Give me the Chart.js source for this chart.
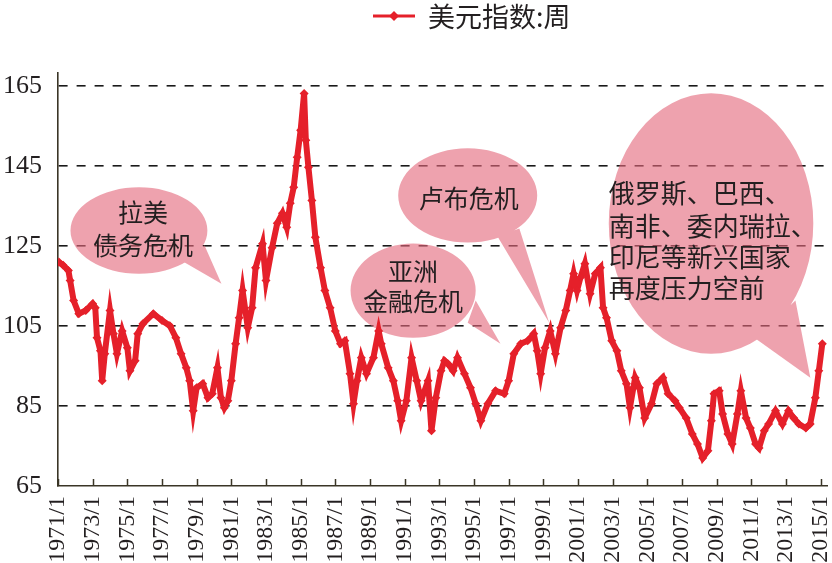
<!DOCTYPE html>
<html>
<head>
<meta charset="utf-8">
<script src="https://cdn.jsdelivr.net/npm/chart.js@4.4.1/dist/chart.umd.min.js"></script>
<style>
  html, body { margin: 0; padding: 0; background: #fff; }
  #wrap { width: 832px; height: 563px; }
</style>
</head>
<body>
<div id="wrap"><canvas id="dxyChart"></canvas></div>
<script>
// 美元指数（周）— 读图估计的数值
const seriesLabel = '美元指数:周';
const years = [
  1971.05, 1971.3, 1971.6, 1971.7, 1971.9, 1972.2, 1972.6, 1973.0, 1973.15, 1973.25,
  1973.45, 1973.55, 1973.7, 1974.0, 1974.2, 1974.4, 1974.7, 1975.0, 1975.15, 1975.45,
  1975.6, 1975.9, 1976.5, 1977.0, 1977.45, 1977.8, 1978.1, 1978.4, 1978.6, 1978.8,
  1979.0, 1979.35, 1979.65, 1979.9, 1980.2, 1980.4, 1980.6, 1980.8, 1981.0, 1981.25,
  1981.45, 1981.65, 1981.95, 1982.2, 1982.4, 1982.8, 1983.0, 1983.35, 1983.65, 1983.95,
  1984.2, 1984.4, 1984.6, 1984.8, 1985.0, 1985.2, 1985.3, 1985.45, 1985.65, 1985.85,
  1986.15, 1986.4, 1986.7, 1987.0, 1987.3, 1987.55, 1987.85, 1988.05, 1988.25, 1988.5,
  1988.8, 1989.2, 1989.5, 1989.65, 1990.05, 1990.35, 1990.6, 1990.8, 1991.1, 1991.4,
  1991.7, 1991.95, 1992.35, 1992.55, 1992.8, 1993.1, 1993.3, 1993.5, 1993.8, 1994.05,
  1994.45, 1994.8, 1995.1, 1995.4, 1995.8, 1996.25, 1996.75, 1997.0, 1997.3, 1997.7,
  1998.1, 1998.45, 1998.65, 1998.85, 1999.1, 1999.4, 1999.7, 2000.0, 2000.3, 2000.55,
  2000.75, 2000.95, 2001.15, 2001.4, 2001.7, 2002.0, 2002.3, 2002.45, 2002.65, 2002.95,
  2003.25, 2003.5, 2003.8, 2004.0, 2004.2, 2004.3, 2004.55, 2004.85, 2005.25, 2005.55,
  2005.9, 2006.2, 2006.6, 2006.85, 2007.25, 2007.6, 2007.9, 2008.2, 2008.5, 2008.7,
  2008.85, 2009.15, 2009.35, 2009.65, 2009.9, 2010.2, 2010.4, 2010.7, 2010.95, 2011.25,
  2011.45, 2011.75, 2012.0, 2012.4, 2012.8, 2013.15, 2013.45, 2013.75, 2014.15, 2014.4,
  2014.7, 2014.9, 2015.1
];
const dxyValues = [
  121.0, 120.2, 118.9, 116.4, 111.4, 108.1, 108.9, 110.6, 109.6, 102.1,
  98.8, 91.3, 98.1, 108.9, 103.1, 98.1, 103.8, 99.6, 93.8, 96.3,
  103.1, 105.6, 108.1, 106.4, 105.1, 102.1, 98.1, 94.6, 91.3, 83.8,
  89.6, 90.6, 87.1, 88.1, 94.6, 87.1, 84.6, 86.3, 91.3, 100.6,
  107.1, 113.9, 104.6, 109.6, 119.6, 125.6, 116.4, 124.6, 130.7, 133.2,
  129.7, 135.7, 139.7, 147.2, 154.0, 163.2, 151.5, 144.7, 136.4, 127.2,
  119.6, 113.9, 109.6, 103.8, 100.6, 101.3, 93.1, 85.6, 91.3, 97.1,
  93.1, 97.1, 103.8, 100.6, 94.6, 91.3, 86.3, 81.3, 86.3, 97.1,
  91.3, 86.3, 91.3, 78.8, 87.1, 93.8, 96.3, 95.6, 93.8, 97.1,
  93.1, 89.6, 85.6, 81.3, 85.6, 88.8, 88.1, 91.3, 98.1, 100.6,
  101.3, 103.1, 98.8, 93.1, 99.6, 103.8, 98.1, 104.6, 108.9, 113.9,
  118.1, 113.9, 117.2, 120.6, 113.1, 118.1, 119.6, 109.6, 107.1, 101.3,
  98.8, 93.8, 90.6, 84.6, 89.6, 92.1, 89.6, 82.0, 85.6, 90.6,
  92.1, 88.1, 86.3, 84.6, 82.0, 78.0, 75.5, 72.0, 73.8, 81.3,
  88.1, 88.8, 83.0, 78.0, 75.5, 83.0, 88.8, 82.0, 79.5, 75.5,
  74.5, 78.8, 80.5, 83.8, 80.5, 83.8, 82.0, 80.5, 79.5, 80.5,
  87.1, 93.8, 100.6
];
const tickYears = [1971, 1973, 1975, 1977, 1979, 1981, 1983, 1985, 1987, 1989, 1991,
  1993, 1995, 1997, 1999, 2001, 2003, 2005, 2007, 2009, 2011, 2013, 2015];
const yTicks = [65, 85, 105, 125, 145, 165];

const RED = '#e5202a';
const INK = '#231f20';
const CJK = '"Noto Sans CJK SC", "Liberation Serif", serif';

// 注释气泡（数据坐标）
const bubbles = [
  { cx: 1975.67, cy: 128.9, rx: 3.95, ry: 10.8,
    tail: [[1978.31, 120.9], [1979.45, 125.2], [1980.43, 115.6]],
    lines: ['拉美', '债务危机'], tx: 1975.9, ty: [133.4, 125.2], align: 'center', size: 25 },
  { cx: 1994.64, cy: 137.68, rx: 4.01, ry: 11.78,
    tail: [[1996.36, 127.4], [1997.62, 129.4], [1999.34, 105.85]],
    lines: ['卢布危机'], tx: 1994.7, ty: [136.9], align: 'center', size: 25 },
  { cx: 1991.49, cy: 113.87, rx: 3.61, ry: 11.78,
    tail: [[1994.64, 105.85], [1995.1, 111.37], [1996.53, 100.6]],
    lines: ['亚洲', '金融危机'], tx: 1991.49, ty: [118.7, 111.1], align: 'center', size: 25 },
  { cx: 2008.68, cy: 130.66, rx: 5.9, ry: 32.58,
    tail: [[2011.26, 101.84], [2013.55, 111.37], [2014.41, 92.07]],
    lines: ['俄罗斯、巴西、', '南非、委内瑞拉、', '印尼等新兴国家', '再度压力空前'],
    tx: 2002.78, ty: [138.18, 129.91, 122.14, 114.37], align: 'left', size: 26 }
];

const bubblePlugin = {
  id: 'bubbles',
  beforeDatasetsDraw(chart) {
    const { ctx, scales: { x, y } } = chart;
    ctx.save();
    ctx.beginPath();
    bubbles.forEach(b => {
      const cx = x.getPixelForValue(b.cx), cy = y.getPixelForValue(b.cy);
      const rx = Math.abs(x.getPixelForValue(b.cx + b.rx) - cx);
      const ry = Math.abs(y.getPixelForValue(b.cy + b.ry) - cy);
      ctx.moveTo(cx + rx, cy);
      ctx.ellipse(cx, cy, rx, ry, 0, 0, Math.PI * 2);
      let pts = b.tail.map(p => [x.getPixelForValue(p[0]), y.getPixelForValue(p[1])]);
      let area = 0;
      for (let i = 0; i < pts.length; i++) {
        const a = pts[i], c = pts[(i + 1) % pts.length];
        area += a[0] * c[1] - c[0] * a[1];
      }
      if (area < 0) pts = pts.reverse();
      ctx.moveTo(pts[0][0], pts[0][1]);
      pts.slice(1).forEach(p => ctx.lineTo(p[0], p[1]));
      ctx.closePath();
    });
    ctx.fillStyle = 'rgba(228, 105, 124, 0.62)';
    ctx.fill('nonzero');

    ctx.fillStyle = INK;
    ctx.textBaseline = 'middle';
    bubbles.forEach(b => {
      ctx.font = b.size + 'px ' + CJK;
      ctx.textAlign = b.align;
      const tx = x.getPixelForValue(b.tx);
      b.lines.forEach((t, i) => ctx.fillText(t, tx, y.getPixelForValue(b.ty[i])));
    });

    // 向内的 x 轴刻度
    ctx.strokeStyle = '#3a3526';
    ctx.lineWidth = 1.5;
    const bottom = chart.chartArea.bottom;
    x.ticks.forEach(t => {
      const px = Math.round(x.getPixelForValue(t.value)) + 0.5;
      ctx.beginPath();
      ctx.moveTo(px, bottom);
      ctx.lineTo(px, bottom - 7);
      ctx.stroke();
    });
    ctx.restore();
  },
  afterDraw(chart) {
    // 图例：线 + 菱形 + 文本
    const { ctx } = chart;
    const ly = 16;
    ctx.save();
    ctx.strokeStyle = RED;
    ctx.lineWidth = 3;
    ctx.beginPath();
    ctx.moveTo(373, ly);
    ctx.lineTo(415, ly);
    ctx.stroke();
    ctx.fillStyle = RED;
    ctx.beginPath();
    ctx.moveTo(394, ly - 5); ctx.lineTo(399, ly); ctx.lineTo(394, ly + 5); ctx.lineTo(389, ly);
    ctx.closePath();
    ctx.fill();
    ctx.fillStyle = INK;
    ctx.font = '27px ' + CJK;
    ctx.textAlign = 'left';
    ctx.textBaseline = 'middle';
    ctx.fillText(chart.data.datasets[0].label, 428, ly + 1);
    ctx.restore();
  }
};

new Chart(document.getElementById('dxyChart'), {
  type: 'line',
  data: {
    datasets: [{
      label: seriesLabel,
      data: years.map((yr, i) => ({ x: yr, y: dxyValues[i] })),
      borderColor: RED,
      backgroundColor: RED,
      borderWidth: 6,
      tension: 0,
      pointStyle: 'rectRot',
      pointRadius: 4.5,
      pointBorderWidth: 0,
      pointBackgroundColor: RED
    }]
  },
  options: {
    responsive: true,
    maintainAspectRatio: false,
    animation: false,
    layout: { padding: { top: 73, left: 4, right: 0, bottom: 0 } },
    plugins: { legend: { display: false }, tooltip: { enabled: false } },
    scales: {
      x: {
        type: 'linear',
        min: 1971,
        max: 2015.4,
        afterBuildTicks: s => { s.ticks = tickYears.map(v => ({ value: v })); },
        afterFit: s => { s.paddingLeft = 0; s.paddingRight = 0; s.height = 77; },
        ticks: {
          autoSkip: false,
          minRotation: 90,
          maxRotation: 90,
          padding: 10,
          color: INK,
          font: { family: 'Liberation Serif', size: 24 },
          callback: v => v + '/1'
        },
        grid: { display: true, drawOnChartArea: false, drawTicks: false },
        border: { display: true, color: '#3a3526', width: 1.6 }
      },
      y: {
        type: 'linear',
        min: 65,
        max: 168.3,
        afterBuildTicks: s => { s.ticks = yTicks.map(v => ({ value: v })); },
        afterFit: s => { s.paddingTop = 0; s.paddingBottom = 0; s.width = 54; },
        ticks: {
          padding: 16,
          color: INK,
          font: { family: 'Liberation Serif', size: 26 }
        },
        grid: {
          drawTicks: false,
          lineWidth: 1.6,
          color: c => (c.tick && c.tick.value === 65) ? 'rgba(0,0,0,0)' : '#1a1a1a'
        },
        border: { display: true, color: '#3a3526', width: 1.6, dash: [9, 9] }
      }
    }
  },
  plugins: [bubblePlugin]
});
</script>
</body>
</html>
